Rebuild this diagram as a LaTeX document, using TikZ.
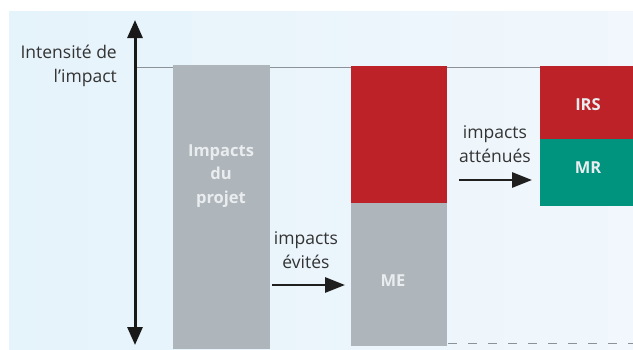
\documentclass[tikz,border=0pt]{standalone}
\usepackage{fontspec}
\setmainfont{Open Sans}
\usetikzlibrary{arrows.meta}
\definecolor{bgL}{HTML}{E5F3FB}
\definecolor{bgR}{HTML}{F1F7FC}
\definecolor{barGray}{HTML}{AEB5BB}
\definecolor{barRed}{HTML}{BD2229}
\definecolor{barGreen}{HTML}{00937E}
\definecolor{txtDark}{HTML}{333333}
\definecolor{txtLight}{HTML}{E9EDF0}
\definecolor{lineGray}{HTML}{8C9297}
\tikzset{
  barbox/.style={draw=none, inner sep=0pt, outer sep=0pt, anchor=north west},
  lbl/.style={font=\fontsize{17.5}{23.5}\selectfont, text=txtDark, align=center, inner sep=0pt},
  barlbl/.style={font=\fontsize{16.5}{23.5}\selectfont\bfseries, text=txtLight, align=center, inner sep=0pt},
  flow/.style={line width=2.8pt, draw=black!88, -{Triangle[length=20pt,width=15pt]}},
}
\begin{document}
\begin{tikzpicture}[x=1pt,y=-1pt]
\useasboundingbox (0,0) rectangle (633,349);
\fill[white] (0,0) rectangle (633,349);
\shade[left color=bgL, right color=bgR] (9,11) rectangle (633,349);
% reference level
\coordinate (lvlL) at (135,67);
\coordinate (lvlR) at (633,67);
\draw[lineGray, line width=0.9pt] (lvlL) -- (lvlR);
% bars
\node[barbox, fill=barGray, minimum width=97pt, minimum height=284pt] (projet) at (173,65) {};
\node[barbox, fill=barRed, minimum width=96pt, minimum height=137pt] (red2) at (351,66) {};
\node[barbox, fill=barGray, minimum width=96pt, minimum height=143pt] (me) at (351,203) {};
\node[barbox, fill=barRed, minimum width=93pt, minimum height=73pt] (irs) at (540,66) {};
\node[barbox, fill=barGreen, minimum width=93pt, minimum height=67pt] (mr) at (540,139) {};
% dashed baseline
\coordinate (dashL) at (448,343);
\coordinate (dashR) at (633,343);
\draw[lineGray, line width=1pt, dash pattern=on 9pt off 11pt] (dashL) -- (dashR);
% axis
\coordinate (axTop) at (135,20);
\coordinate (axBot) at (135,345);
\draw[line width=3pt, black!90, {Triangle[length=18pt,width=15pt]}-{Triangle[length=18pt,width=15pt]}] (axBot) -- (axTop);
\node[lbl, align=right, anchor=east] (axlbl) at (117,66) {Intensité de\\l’impact};
% labels in bars
\node[barlbl] (tprojet) at (221,176) {Impacts\\du\\projet};
\node[barlbl] (tme) at (393,281) {ME};
\node[barlbl] (tirs) at (588,105) {IRS};
\node[barlbl] (tmr) at (588,168) {MR};
% flow arrows
\node[lbl] (tevit) at (306,250) {impacts\\évités};
\coordinate (a1s) at (272,285);
\coordinate (a1e) at (345,285);
\draw[flow] (a1s) -- (a1e);
\node[lbl] (tatt) at (495,144) {impacts\\atténués};
\coordinate (a2s) at (459,180);
\coordinate (a2e) at (532,180);
\draw[flow] (a2s) -- (a2e);
\end{tikzpicture}
\end{document}
